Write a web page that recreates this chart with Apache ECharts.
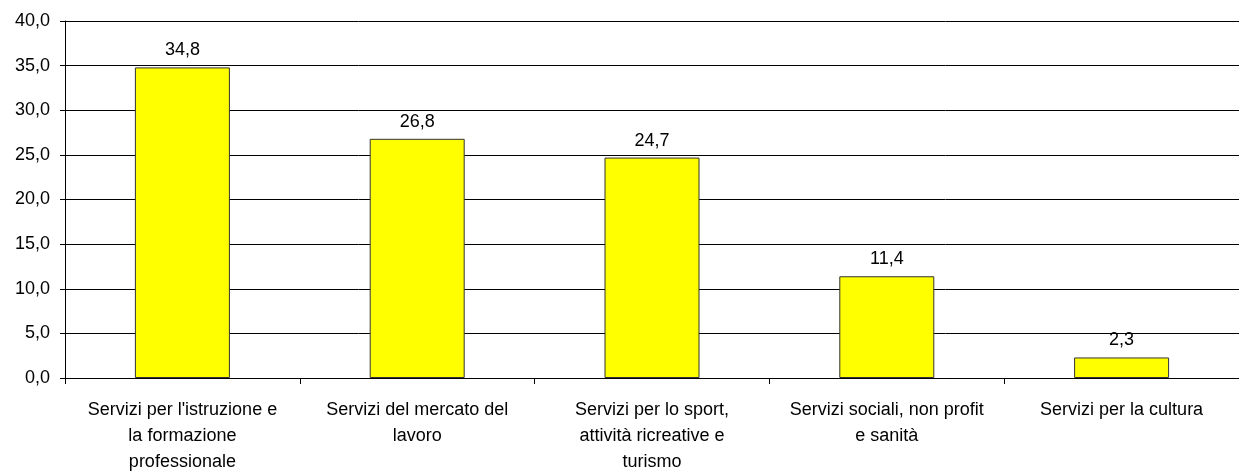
<!DOCTYPE html>
<html>
<head>
<meta charset="utf-8">
<script src="https://cdn.jsdelivr.net/npm/echarts@6/dist/echarts.min.js"></script>
<style>
  html, body { margin: 0; padding: 0; background: #fff; }
  #chart { width: 1239px; height: 475px; }
</style>
</head>
<body>
<div id="chart"></div>
<script>
// Sectors of services (percent shares)
const categories = [
  "Servizi per l'istruzione e\nla formazione\nprofessionale",
  "Servizi del mercato del\nlavoro",
  "Servizi per lo sport,\nattività ricreative e\nturismo",
  "Servizi sociali, non profit\ne sanità",
  "Servizi per la cultura"
];
const values = [34.8, 26.8, 24.7, 11.4, 2.3];
const yMin = 0;
const yMax = 40;
const yStep = 5;

const fmt = v => v.toFixed(1).replace('.', ',');
const font = "'Liberation Sans', Arial, sans-serif";

const chart = echarts.init(document.getElementById('chart'), null, { renderer: 'canvas' });
chart.setOption({
  animation: false,
  backgroundColor: '#ffffff',
  grid: { left: 65, top: 21, width: 1183, height: 360, containLabel: false },
  xAxis: {
    type: 'category',
    data: categories,
    axisLine: { show: true, lineStyle: { color: '#000', width: 1 } },
    axisTick: { show: true, length: 6, interval: 0, lineStyle: { color: '#000' } },
    axisLabel: {
      interval: 0, color: '#000', fontFamily: font, fontSize: 18,
      lineHeight: 26, margin: 19
    },
    splitLine: { show: false }
  },
  yAxis: {
    type: 'value',
    min: yMin, max: yMax, interval: yStep,
    axisLine: { show: true, lineStyle: { color: '#000', width: 1 } },
    axisTick: { show: true, length: 5, lineStyle: { color: '#000' } },
    axisLabel: {
      color: '#000', fontFamily: font, fontSize: 18, margin: 15,
      formatter: v => fmt(v)
    },
    splitLine: { show: true, lineStyle: { color: '#000', width: 1 } }
  },
  series: [{
    type: 'bar',
    data: values,
    barWidth: 95,
    itemStyle: { color: '#FFFF00', borderColor: '#333', borderWidth: 1 },
    label: {
      show: true, position: 'top', distance: 8,
      color: '#000', fontFamily: font, fontSize: 18,
      formatter: p => fmt(p.value)
    }
  }]
});
</script>
</body>
</html>
